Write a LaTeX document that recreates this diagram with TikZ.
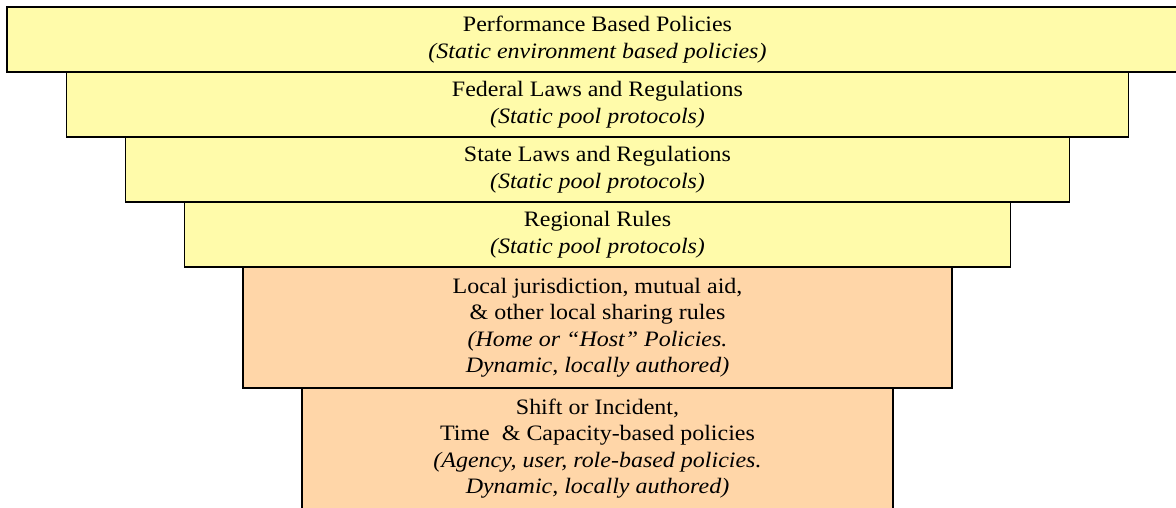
\documentclass[tikz,border=0pt]{standalone}
\usepackage{fontspec}
\setmainfont{Liberation Serif}[FakeStretch=1.09]
\usepackage{xcolor}
\usetikzlibrary{positioning}

\definecolor{paleyellow}{RGB}{255,251,170}
\definecolor{peach}{RGB}{255,214,168}

\begin{document}
\begin{tikzpicture}[x=1pt, y=-1pt,
    font=\fontsize{22}{26.5}\selectfont,
    tier/.style={rectangle, draw, line width=1.5pt, outer sep=0pt, inner sep=0pt,
        align=center, minimum height=65pt, fill=paleyellow},
    localtier/.style={tier, minimum height=121pt, fill=peach}]
    \useasboundingbox (0,0) rectangle (1176,508);

    \node[tier, minimum width=1181pt] (perf) at (597.5,39.5)
        {Performance Based Policies\\\textit{(Static environment based policies)}};
    \node[tier, minimum width=1062pt, below=0pt of perf] (federal)
        {Federal Laws and Regulations\\\textit{(Static pool protocols)}};
    \node[tier, minimum width=944pt, below=0pt of federal] (state)
        {State Laws and Regulations\\\textit{(Static pool protocols)}};
    \node[tier, minimum width=826pt, below=0pt of state] (regional)
        {Regional Rules\\\textit{(Static pool protocols)}};
    \node[localtier, minimum width=709pt, below=0pt of regional] (local)
        {Local jurisdiction, mutual aid,\\\& other local sharing rules\\
         \textit{(Home or ``Host'' Policies.}\\\textit{Dynamic, locally authored)}};
    \node[localtier, minimum width=591pt, below=0pt of local] (shift)
        {Shift or Incident,\\Time\ \ \& Capacity-based policies\\
         \textit{(Agency, user, role-based policies.}\\\textit{Dynamic, locally authored)}};
\end{tikzpicture}
\end{document}
